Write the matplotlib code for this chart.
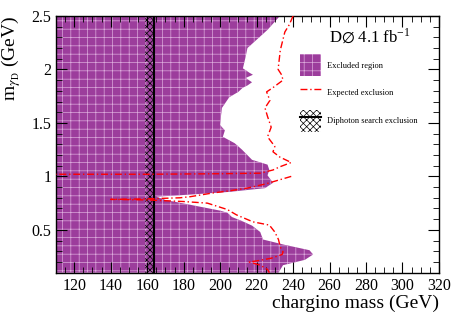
import matplotlib
matplotlib.use("Agg")
import matplotlib.pyplot as plt
from matplotlib.patches import Patch
from matplotlib.lines import Line2D
from matplotlib.legend_handler import HandlerTuple
from matplotlib.ticker import MultipleLocator

plt.rcParams['font.family'] = ['Liberation Serif', 'DejaVu Serif']
plt.rcParams['mathtext.fontset'] = 'stix'
plt.rcParams['hatch.linewidth'] = 0.5

# excluded region boundary: chargino mass edge (GeV) vs m_gammaD (GeV)
excl_y = [2.5, 2.37, 2.2, 2.09, 2.01, 1.97, 1.95, 1.92, 1.88, 1.85, 1.83, 1.79, 1.74,
          1.64, 1.57, 1.48, 1.43, 1.37, 1.31, 1.25, 1.155, 1.11, 1.06, 1.01, 0.94,
          0.89, 0.855, 0.83, 0.81, 0.78, 0.73, 0.68, 0.66, 0.62, 0.59, 0.54, 0.48,
          0.41, 0.36, 0.31, 0.27, 0.22, 0.17, 0.10]
excl_x = [232.8, 226, 215, 213.6, 212.5, 216, 218, 214, 217.5, 215, 212.5, 210, 205,
          201, 200.5, 200, 202.6, 201.5, 208, 212, 217.5, 226, 227, 226, 229,
          224.6, 205, 183.5, 165, 170, 185, 200, 204, 206.5, 211, 217.5, 222,
          223.5, 235.5, 249, 251, 246.5, 234.5, 232]

# expected exclusion, upper branch
exp1_x = [240, 238, 235.5, 233, 231.8, 233.7, 234.5, 229, 225.5, 227.3, 224.6, 226,
          228, 226, 230, 229, 232.8, 239, 232.8, 229, 222, 200, 160, 110]
exp1_y = [2.5, 2.42, 2.35, 2.18, 2.0, 1.95, 1.9, 1.83, 1.79, 1.71, 1.64, 1.56,
          1.46, 1.37, 1.28, 1.23, 1.18, 1.13, 1.09, 1.06, 1.03, 1.025, 1.02, 1.02]

# expected exclusion, lower branch
exp2_x = [239, 233, 225, 214.7, 205, 196, 183.5, 178, 160, 140, 160, 180, 193,
          204, 209, 218, 227, 230, 232, 233, 234.5, 234, 228, 220, 216, 222, 226, 227]
exp2_y = [1.0, 0.97, 0.93, 0.89, 0.865, 0.845, 0.81, 0.80, 0.79, 0.785, 0.78, 0.765, 0.75,
          0.69, 0.64, 0.575, 0.545, 0.48, 0.41, 0.34, 0.295, 0.27, 0.235, 0.21, 0.2,
          0.17, 0.13, 0.1]

# diphoton search exclusion band
diph_lo, diph_hi = 159, 164

xmin, xmax = 110, 320
ymin, ymax = 0.1, 2.5

fig = plt.figure(figsize=(4.63, 3.25), dpi=100)
ax = fig.add_axes([0.121, 0.161, 0.827, 0.790])

purple = '#9c3d9c'
grid_col = '#dcaadc'

ax.fill_betweenx(excl_y, xmin, excl_x, facecolor=purple, edgecolor=grid_col,
                 hatch='++', linewidth=0, zorder=1)
ax.fill_betweenx([ymin, ymax], diph_lo, diph_hi, facecolor='none', edgecolor='black',
                 hatch='xxxxx', linewidth=0, zorder=2)
ax.plot([diph_hi, diph_hi], [ymin, ymax], color='black', lw=1.5, zorder=3)

dashdot = (0, (5, 2, 1, 2))
ax.plot(exp1_x, exp1_y, color='red', lw=1.0, ls=dashdot, zorder=4)
ax.plot(exp2_x, exp2_y, color='red', lw=1.0, ls=dashdot, zorder=4)

ax.set_xlim(xmin, xmax)
ax.set_ylim(ymin, ymax)
ax.xaxis.set_major_locator(MultipleLocator(20))
ax.xaxis.set_minor_locator(MultipleLocator(5))
ax.yaxis.set_major_locator(MultipleLocator(0.5))
ax.yaxis.set_minor_locator(MultipleLocator(0.1))
ax.tick_params(which='both', direction='in', top=True, right=True, labelsize=11.5)
ax.tick_params(which='major', length=8)
ax.tick_params(which='minor', length=4)
ax.set_yticks([0.5, 1, 1.5, 2, 2.5])
ax.set_yticklabels(['0.5', '1', '1.5', '2', '2.5'])
for s in ax.spines.values():
    s.set_linewidth(1.0)

ax.set_xlabel('chargino mass (GeV)', fontsize=14, loc='right', labelpad=1)
ax.set_ylabel(r'm$_{\gamma_{\rm D}}$ (GeV)', fontsize=14, loc='top', labelpad=6)

ax.text(0.82, 0.92, r'D$\varnothing$ 4.1 fb$^{\mathregular{-1}}$', transform=ax.transAxes,
        fontsize=12, ha='center', va='center')

handles = [
    Patch(facecolor=purple, edgecolor=grid_col, hatch='++', linewidth=0),
    Line2D([], [], color='red', lw=1.0, ls=dashdot),
    (Patch(facecolor='white', edgecolor='black', hatch='xxxxx', linewidth=0),
     Line2D([], [], color='black', lw=1.5)),
]
labels = ['Excluded region', 'Expected exclusion', 'Diphoton search exclusion']
ax.legend(handles, labels, loc='upper left', bbox_to_anchor=(0.637, 0.85),
          frameon=False, fontsize=6, handlelength=2.5, handleheight=3.6,
          labelspacing=0.75, borderpad=0, borderaxespad=0, handletextpad=0.8,
          handler_map={tuple: HandlerTuple(ndivide=1, pad=0)})

fig.savefig('out.png', dpi=100)
